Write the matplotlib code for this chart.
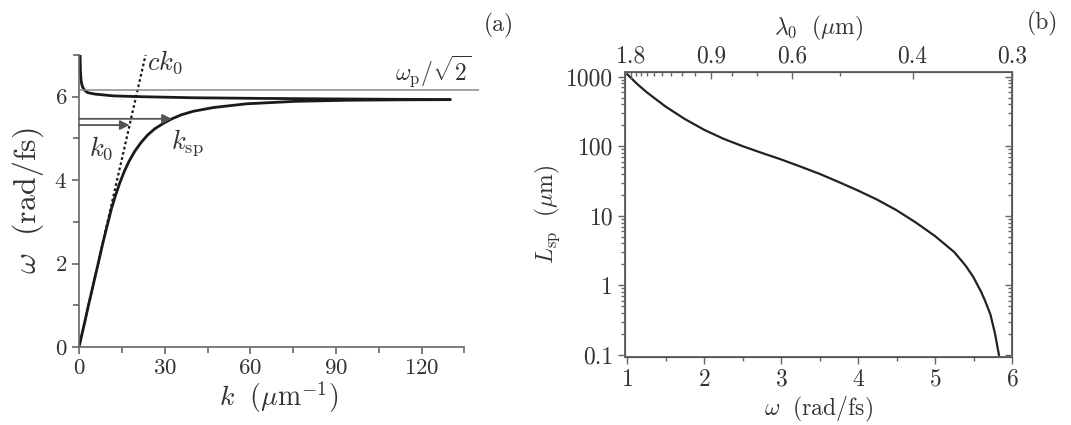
import numpy as np
import matplotlib
matplotlib.use("Agg")
import matplotlib.pyplot as plt
from matplotlib.ticker import FixedLocator, FuncFormatter, NullFormatter, LogLocator

plt.rcParams['font.family'] = 'cmr10'
plt.rcParams['mathtext.fontset'] = 'cm'
plt.rcParams['axes.formatter.use_mathtext'] = True

# (a) dispersion
k_lower = [0.2, 1.7, 3.3, 5.0, 6.7, 8.3, 10.0, 11.3, 12.7, 14.2, 15.8, 17.5, 19.5, 21.7, 24.0,
           26.5, 29.5, 32.5, 36.0, 40.0, 47.0, 58.7, 76.0, 94.0, 112.0, 130.0]
w_lower = [0.06, 0.51, 1.0, 1.5, 2.0, 2.48, 2.95, 3.3, 3.62, 3.92, 4.2, 4.45, 4.69, 4.9, 5.08,
           5.23, 5.36, 5.47, 5.57, 5.65, 5.74, 5.83, 5.89, 5.915, 5.925, 5.93]
k_upper = [0.35, 0.4, 0.5, 0.65, 0.8, 1.1, 1.5, 2.2, 3.0, 4.5, 6.0, 9.0, 12.0, 22.0, 40.0,
           63.0, 94.0, 130.0]
w_upper = [7.2, 6.85, 6.6, 6.45, 6.35, 6.26, 6.2, 6.14, 6.1, 6.075, 6.06, 6.04, 6.02, 6.0, 5.975,
           5.96, 5.945, 5.93]
light_k = [0.0, 23.3]
light_w = [0.0, 7.0]
w_sp_line = 6.17
arrow_w = [5.47, 5.32]
arrow_k = [32.5, 17.7]

# (b) propagation length
omega = [1.0, 1.12, 1.25, 1.5, 1.75, 2.0, 2.25, 2.5, 2.75, 3.0, 3.25, 3.5, 3.75, 4.0, 4.25,
         4.5, 4.75, 5.0, 5.25, 5.4, 5.5, 5.6, 5.65, 5.72, 5.78, 5.83]
L_sp = [1080, 800, 600, 370, 245, 172, 128, 100, 80, 64.5, 51, 40, 30.5, 23, 17,
        12, 8.0, 5.1, 3.0, 1.9, 1.3, 0.8, 0.6, 0.38, 0.2, 0.1]
lam_ticks = [1.8, 0.9, 0.6, 0.4]
lam_minor = [1.7, 1.6, 1.5, 1.4, 1.3, 1.2, 1.1, 1.0, 0.8, 0.7, 0.5]

txt = '#333333'
spc = '#666666'

fig = plt.figure(figsize=(10.71, 4.25), dpi=100)
ax = fig.add_axes([0.0738, 0.1835, 0.3732, 0.6871])
ax.plot(k_lower, w_lower, color='#1a1a1a', lw=2.0, solid_capstyle='round')
ax.plot(k_upper, w_upper, color='#1a1a1a', lw=2.0, solid_capstyle='round')
ax.plot(light_k, light_w, color='#1a1a1a', lw=1.6, ls=(0, (1.2, 1.2)))
ax.axhline(w_sp_line, color='#8a8a8a', lw=1.1)
for w, k in zip(arrow_w, arrow_k):
    ax.annotate('', xy=(k, w), xytext=(0, w),
                arrowprops=dict(arrowstyle='-|>', color='#555555', lw=1.3,
                                mutation_scale=14, shrinkA=0, shrinkB=0))
ax.set_xlim(0, 140)
ax.set_ylim(0, 7)
ax.spines['top'].set_visible(False)
ax.spines['right'].set_visible(False)
ax.spines['bottom'].set_bounds(0, 135)
for s in ['left', 'bottom']:
    ax.spines[s].set_color(spc)
    ax.spines[s].set_linewidth(1.2)
ax.set_xticks([0, 30, 60, 90, 120])
ax.set_xticks([15, 45, 75, 105, 135], minor=True)
ax.set_yticks([0, 2, 4, 6])
ax.set_yticks([1, 3, 5, 7], minor=True)
ax.tick_params(which='both', direction='out', colors=spc, labelcolor=txt, labelsize=16.5, width=1.2)
ax.tick_params(which='major', length=5)
ax.tick_params(which='minor', length=4)
ax.set_xlabel(r'$k\ \ (\mu\mathrm{m}^{-1})$', fontsize=20, color=txt, labelpad=1)
ax.set_ylabel(r'$\omega\ \ (\mathrm{rad/fs})$', fontsize=23, color=txt, labelpad=6)
ax.text(23.8, 6.83, r'$ck_0$', fontsize=19, color=txt, va='center', ha='left')
ax.text(137.3, 6.62, r'$\omega_{\mathrm{p}}/\sqrt{2}$', fontsize=17, color=txt, va='center', ha='right')
ax.text(7.7, 4.78, r'$k_0$', fontsize=19, color=txt, va='center', ha='center')
ax.text(32.1, 4.9, r'$k_{\mathrm{sp}}$', fontsize=19, color=txt, va='center', ha='left')
fig.text(0.466, 0.939, '(a)', fontsize=17, color=txt, ha='center', va='center')

bx = fig.add_axes([0.5836, 0.1607, 0.3613, 0.6706])
bx.plot(omega, L_sp, color='#222222', lw=1.6)
bx.set_yscale('log')
bx.set_xlim(0.97, 6.0)
bx.set_ylim(0.094, 1180)
bx.yaxis.set_major_locator(FixedLocator([0.1, 1, 10, 100, 1000]))
bx.yaxis.set_major_formatter(FuncFormatter(lambda v, p: '%g' % v))
bx.yaxis.set_minor_formatter(NullFormatter())
bx.set_xticks([1, 2, 3, 4, 5, 6])
bx.set_xticks([1.5, 2.5, 3.5, 4.5, 5.5], minor=True)
for s in bx.spines.values():
    s.set_color(spc)
    s.set_linewidth(1.2)
bx.tick_params(which='both', direction='out', colors=spc, labelcolor=txt, labelsize=17, width=1.0)
bx.tick_params(which='major', length=5)
bx.tick_params(which='minor', length=3)
bx.set_xlabel(r'$\omega\ \ (\mathrm{rad/fs})$', fontsize=17, color=txt, labelpad=3)
bx.set_ylabel(r'$L_{\mathrm{sp}}\ \ (\mu\mathrm{m})$', fontsize=17, color=txt, labelpad=3)

rx = bx.twinx()
rx.set_yscale('log')
rx.set_ylim(bx.get_ylim())
rx.yaxis.set_major_locator(FixedLocator([0.1, 1, 10, 100, 1000]))
rx.yaxis.set_minor_locator(LogLocator(subs=np.arange(2, 10)))
rx.yaxis.set_major_formatter(NullFormatter())
rx.yaxis.set_minor_formatter(NullFormatter())
rx.tick_params(which='both', direction='in', colors=spc, width=1.0)
rx.tick_params(which='major', length=5)
rx.tick_params(which='minor', length=3)

tx = bx.twiny()
tx.set_xlim(bx.get_xlim())
tx.set_xticks([1.8836 / l for l in lam_ticks] + [6.0])
tx.set_xticklabels(['%g' % l for l in lam_ticks] + ['0.3'])
tx.set_xticks([1.8836 / l for l in lam_minor], minor=True)
tx.tick_params(which='both', direction='in', colors=spc, labelcolor=txt, labelsize=17, width=1.0)
tx.tick_params(which='major', length=5, pad=3)
tx.tick_params(which='minor', length=3)
tx.set_xlabel(r'$\lambda_0\ \ (\mu\mathrm{m})$', fontsize=17, color=txt, labelpad=8)
for s in tx.spines.values():
    s.set_color(spc)
    s.set_linewidth(1.2)
fig.text(0.973, 0.945, '(b)', fontsize=17, color=txt, ha='center', va='center')

fig.savefig('out.png', dpi=100)
